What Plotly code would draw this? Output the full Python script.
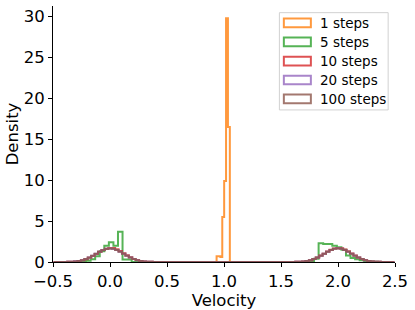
import numpy as np
import plotly.graph_objects as go

# ---------------- data ----------------
labels = ["1 steps", "5 steps", "10 steps", "20 steps", "100 steps"]
colors = ["rgba(255,127,14,0.8)", "rgba(44,160,44,0.8)", "rgba(214,39,40,0.8)",
          "rgba(148,103,189,0.8)", "rgba(140,86,75,0.8)"]

# 1 step: narrow peak near 1.0
edges_1 = [0.935, 0.9516, 0.9682, 0.9848, 1.0014, 1.018, 1.0346, 1.0512]
dens_1 = [0.7, 0.7, 0.6, 5.5, 9.9, 29.8, 16.5]

# 5 steps (bin width 0.04)
edges_5_left = np.linspace(-0.45, 0.23, 18)
dens_5_left = [0, 0, 0, 0, 0.02, 0.05, 0.15, 0.35, 0.7, 1.3, 2.0, 2.4, 2.0, 3.7, 0.3, 0.3, 0]
edges_5_right = np.linspace(1.55, 2.39, 22)
dens_5_right = [0, 0, 0, 0, 0.02, 0.1, 0.4, 2.3, 2.2, 2.2, 2.0, 1.8, 1.5, 0.8, 0.5, 0.35,
                0.2, 0.1, 0.05, 0.02, 0]

# smooth ones (bin width 0.03)
edges_s_left = np.linspace(-0.495, 0.495, 34)
edges_s_right = np.linspace(1.505, 2.495, 34)

dens_10_left = [0, 0.001, 0.004, 0.009, 0.02, 0.04, 0.07, 0.12, 0.21, 0.34, 0.52, 0.74, 0.98,
                1.24, 1.46, 1.63, 1.72, 1.70, 1.56, 1.33, 1.08, 0.82, 0.58, 0.38, 0.23, 0.13,
                0.07, 0.035, 0.016, 0.007, 0.003, 0.001, 0]
dens_10_right = [0, 0.001, 0.003, 0.008, 0.018, 0.04, 0.075, 0.13, 0.22, 0.36, 0.55, 0.78, 1.02,
                 1.28, 1.50, 1.66, 1.72, 1.68, 1.53, 1.30, 1.05, 0.79, 0.56, 0.37, 0.23, 0.13,
                 0.07, 0.037, 0.017, 0.007, 0.003, 0.001, 0]
dens_20_left = [0, 0.001, 0.003, 0.008, 0.019, 0.041, 0.077, 0.135, 0.225, 0.365, 0.55, 0.77,
                1.01, 1.26, 1.46, 1.61, 1.66, 1.60, 1.46, 1.25, 1.01, 0.76, 0.54, 0.355, 0.215,
                0.125, 0.07, 0.037, 0.017, 0.007, 0.003, 0.001, 0]
dens_20_right = [0, 0.001, 0.003, 0.008, 0.018, 0.039, 0.074, 0.13, 0.22, 0.36, 0.54, 0.76, 1.0,
                 1.25, 1.46, 1.62, 1.67, 1.62, 1.47, 1.26, 1.02, 0.77, 0.55, 0.36, 0.22, 0.13,
                 0.072, 0.038, 0.018, 0.008, 0.003, 0.001, 0]
dens_100_left = [0, 0.001, 0.003, 0.008, 0.018, 0.04, 0.075, 0.13, 0.22, 0.36, 0.54, 0.76, 1.0,
                 1.25, 1.45, 1.60, 1.65, 1.61, 1.47, 1.26, 1.02, 0.77, 0.55, 0.36, 0.22, 0.13,
                 0.07, 0.04, 0.018, 0.008, 0.003, 0.001, 0]
dens_100_right = [0, 0.001, 0.003, 0.008, 0.019, 0.04, 0.076, 0.132, 0.222, 0.362, 0.545, 0.765,
                  1.0, 1.25, 1.46, 1.61, 1.66, 1.61, 1.46, 1.25, 1.01, 0.76, 0.54, 0.36, 0.22,
                  0.13, 0.072, 0.038, 0.017, 0.008, 0.003, 0.001, 0]

x_ticks = [-0.5, 0.0, 0.5, 1.0, 1.5, 2.0, 2.5]
y_ticks = [0, 5, 10, 15, 20, 25, 30]


def join(e_left, d_left, e_right, d_right):
    edges = list(e_left) + list(e_right)
    dens = list(d_left) + [0] + list(d_right)
    return edges, dens


def step_xy(edges, dens):
    x = [edges[0]] + list(edges[:-1]) + [edges[-1]]
    y = [0] + list(dens) + [0]
    return x, y


series = [
    (edges_1, dens_1),
    join(edges_5_left, dens_5_left, edges_5_right, dens_5_right),
    join(edges_s_left, dens_10_left, edges_s_right, dens_10_right),
    join(edges_s_left, dens_20_left, edges_s_right, dens_20_right),
    join(edges_s_left, dens_100_left, edges_s_right, dens_100_right),
]

fig = go.Figure()
for (edges, dens), lab, col in zip(series, labels, colors):
    x, y = step_xy(edges, dens)
    fig.add_trace(go.Scatter(x=x, y=y, mode="lines", line=dict(color=col, width=2, shape="hv"),
                             name=lab, showlegend=False, hoverinfo="skip"))

FONT = "DejaVu Sans, Arial, sans-serif"

fig.update_layout(
    width=415, height=310,
    margin=dict(l=53, r=20, t=6, b=48),
    paper_bgcolor="white", plot_bgcolor="white",
    font=dict(family=FONT, color="black", size=16.5),
    showlegend=False,
    xaxis=dict(range=[-0.5, 2.5], tickvals=x_ticks, tickformat=".1f", showgrid=False,
               zeroline=False, showline=True, linecolor="black", linewidth=1,
               ticks="outside", ticklen=4, tickwidth=1, tickcolor="black",
               tickfont=dict(size=16.5),
               title=dict(text="Velocity", font=dict(size=16.5), standoff=1)),
    yaxis=dict(range=[0, 31.3], tickvals=y_ticks, showgrid=False, zeroline=False,
               showline=True, linecolor="black", linewidth=1,
               ticks="outside", ticklen=4, tickwidth=1, tickcolor="black",
               tickfont=dict(size=16.5),
               title=dict(text="Density", font=dict(size=16.5), standoff=0)),
)

# legend drawn as matplotlib-style frame with rectangle patches
fig.add_shape(type="rect", xref="paper", yref="paper", x0=0.662, x1=0.980, y0=0.594, y1=0.974,
              line=dict(color="rgba(204,204,204,0.9)", width=1), fillcolor="rgba(255,255,255,0.8)",
              layer="above")
row_y = [0.934, 0.860, 0.785, 0.711, 0.637]
for ry, lab, col in zip(row_y, labels, colors):
    fig.add_shape(type="rect", xref="paper", yref="paper", x0=0.675, x1=0.754,
                  y0=ry - 0.017, y1=ry + 0.017, line=dict(color=col, width=2),
                  fillcolor="rgba(0,0,0,0)", layer="above")
    fig.add_annotation(xref="paper", yref="paper", x=0.776, y=ry, text=lab, showarrow=False,
                       xanchor="left", yanchor="middle", font=dict(size=13.5, family=FONT))

fig.write_html("out.html", config={"displayModeBar": False},
               post_script="document.body.style.margin='0';")
